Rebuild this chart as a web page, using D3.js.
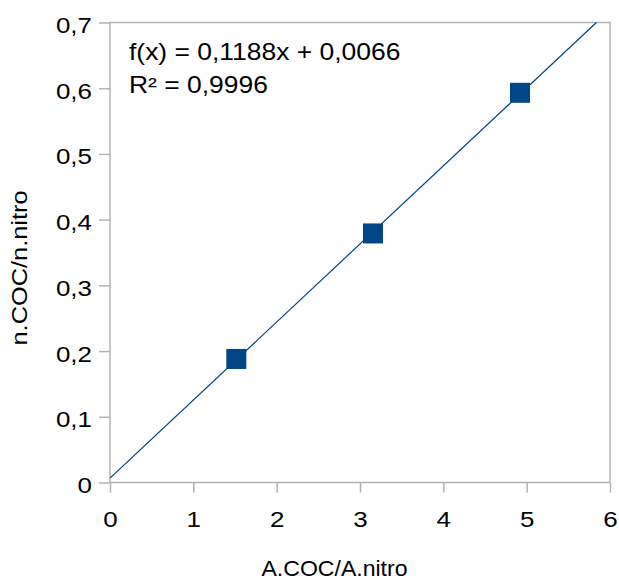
<!DOCTYPE html>
<html lang="en">
<head>
	<title>COC calibration</title>
	<script src="https://d3js.org/d3.v7.min.js" charset="utf-8"></script>
	<style>
		body { margin: 0; background: #fff; }
		text { font-family: "Liberation Sans", Arial, sans-serif; fill: #000; }
	</style>
</head>
<body>
	<script>

	// measured points
	var ratioArea = [1.516, 3.156, 4.92];   // A.COC/A.nitro
	var ratioMol = [0.188, 0.379, 0.593];   // n.COC/n.nitro
	var slope = 0.1188, intercept = 0.0066;
	var eqLines = ["f(x) = 0,1188x + 0,0066", "R\u00b2 = 0,9996"];
	var xTicks = [0, 1, 2, 3, 4, 5, 6];
	var yTicks = [0, 0.1, 0.2, 0.3, 0.4, 0.5, 0.6, 0.7];

	var width = 619,
		height = 581;

	// plot box (note: "top" is taken by window.top)
	var pLeft = 110, pRight = 610, pTop = 22.5, pBottom = 482.5;
	var grey = "#b3b3b3", blue = "#004586";

	var svg = d3.select("body")
		.append("svg")
		.attr("width", width)
		.attr("height", height);

	var x = d3.scaleLinear().domain([0, 6]).range([pLeft, pRight]);
	var y = d3.scaleLinear().domain([0, 0.7]).range([pBottom, pTop]);

	var comma = function(d) { return String(d).replace(".", ","); };

	// frame
	svg.append("rect")
		.attr("x", pLeft).attr("y", pTop)
		.attr("width", pRight - pLeft).attr("height", pBottom - pTop)
		.attr("fill", "none")
		.attr("stroke", grey)
		.attr("stroke-width", 1.5);

	var xAxis = svg.append("g")
		.attr("transform", "translate(0," + pBottom + ")")
		.call(d3.axisBottom(x).tickValues(xTicks).tickFormat(comma).tickSize(10).tickPadding(0));

	var yAxis = svg.append("g")
		.attr("transform", "translate(" + pLeft + ",0)")
		.call(d3.axisLeft(y).tickValues(yTicks).tickFormat(comma).tickSize(11).tickPadding(0));

	[xAxis, yAxis].forEach(function(g) {
		g.select(".domain").remove();
		g.selectAll(".tick line").attr("stroke", grey).attr("stroke-width", 1.5);
		g.selectAll(".tick text").attr("font-size", 22);
	});

	// labels look a bit stretched sideways in the original
	xAxis.selectAll(".tick text")
		.attr("text-anchor", "middle")
		.attr("x", null).attr("y", null).attr("dy", null)
		.attr("transform", "translate(0,44.5) scale(1.18,1)");

	yAxis.selectAll(".tick text")
		.attr("text-anchor", "end")
		.attr("x", null).attr("y", null).attr("dy", null)
		.attr("transform", "translate(-18,10) scale(1.18,1)");

	// trend line, clipped to the plot top
	var xEnd = Math.min(6, (0.7 - intercept) / slope);
	svg.append("line")
		.attr("x1", x(0)).attr("y1", y(intercept))
		.attr("x2", x(xEnd)).attr("y2", y(slope * xEnd + intercept))
		.attr("stroke", blue)
		.attr("stroke-width", 1.2);

	svg.append("g")
		.selectAll("rect")
		.data(ratioArea)
		.enter().append("rect")
		.attr("x", function(d) { return x(d) - 10; })
		.attr("y", function(d, i) { return y(ratioMol[i]) - 10; })
		.attr("width", 20)
		.attr("height", 20)
		.attr("fill", blue);

	// regression text
	svg.append("g")
		.selectAll("text")
		.data(eqLines)
		.enter().append("text")
		.attr("font-size", 23)
		.attr("transform", function(d, i) { return "translate(129," + (60 + i * 33) + ") scale(1.15,1)"; })
		.text(function(d) { return d; });

	svg.append("text")
		.attr("x", 334.5).attr("y", 576)
		.attr("text-anchor", "middle")
		.attr("font-size", 22)
		.attr("textLength", 146)
		.attr("lengthAdjust", "spacingAndGlyphs")
		.text("A.COC/A.nitro");

	svg.append("text")
		.attr("transform", "translate(27,268) rotate(-90)")
		.attr("text-anchor", "middle")
		.attr("font-size", 22)
		.attr("textLength", 155)
		.attr("lengthAdjust", "spacingAndGlyphs")
		.text("n.COC/n.nitro");

	</script>
</body>
</html>
